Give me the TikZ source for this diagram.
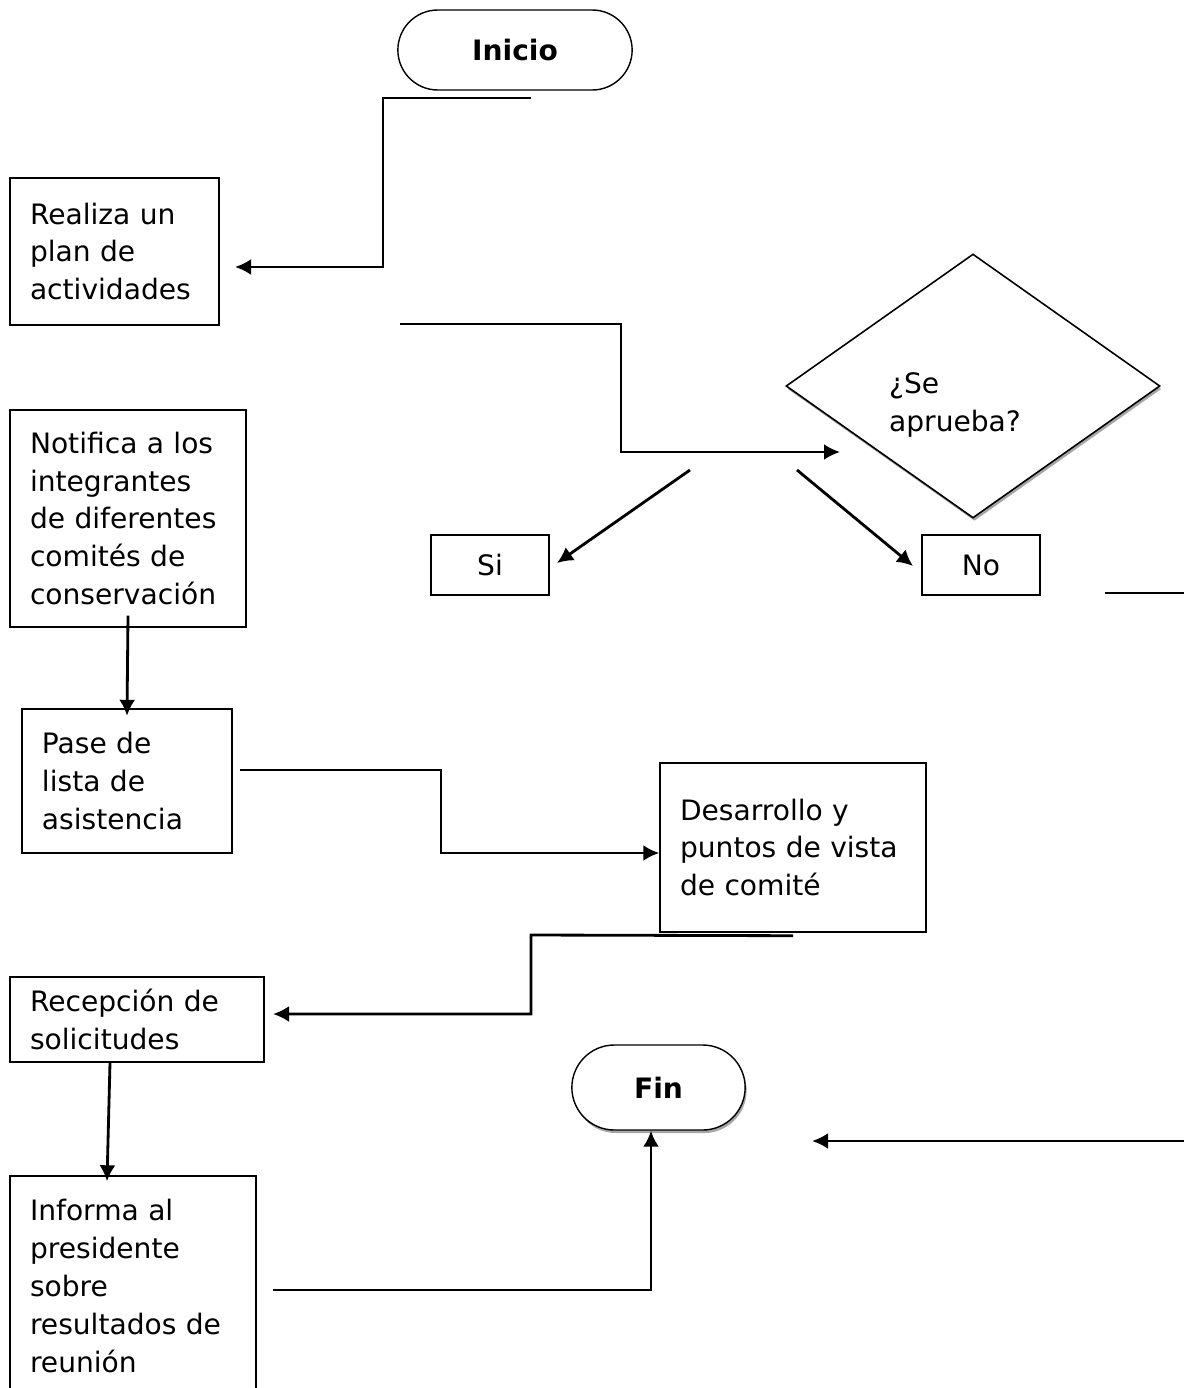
\documentclass[tikz,border=0pt]{standalone}
\usepackage{fontspec}
\setmainfont{DejaVu Sans}
\usetikzlibrary{arrows.meta,shapes.geometric,shapes.misc,shadows}

\begin{document}
\begin{tikzpicture}[
    >={Latex[length=0.32cm,width=0.32cm]},
    font=\fontsize{16pt}{21.6pt}\selectfont,
    caja/.style={draw, line width=0.8pt, align=left, inner xsep=0.4cm},
    terminal/.style={draw, line width=0.8pt, rounded rectangle, fill=white,
                     font=\fontsize{16pt}{21.6pt}\selectfont\bfseries},
    sombra/.style={drop shadow={shadow xshift=0.03cm, shadow yshift=-0.06cm,
                   fill=gray!70, opacity=1}},
    conector/.style={line width=1.6pt, ->}
]

\useasboundingbox (0,0) rectangle (23.68,-27.76);

% inicio y fin
\node[terminal, minimum width=4.92cm, minimum height=1.60cm] (inicio) at (10.30,-1.00) {Inicio};

\node[terminal, sombra, minimum width=3.70cm, minimum height=1.70cm] (fin) at (13.17,-21.75) {Fin};

% columna izquierda
\node[caja, text width=3.38cm, minimum height=2.94cm] (plan) at (2.29,-5.03)
    {Realiza un\\plan de\\actividades};

\node[caja, text width=3.92cm, minimum height=4.34cm] (notifica) at (2.56,-10.37)
    {Notifica a los\\integrantes\\de diferentes\\comités de\\conservación};

\node[caja, text width=3.40cm, minimum height=2.88cm] (pase) at (2.54,-15.62)
    {Pase de\\lista de\\asistencia};

\node[caja, text width=4.28cm, minimum height=1.70cm] (recepcion) at (2.74,-20.39)
    {Recepción de\\solicitudes};

\node[caja, text width=4.12cm, minimum height=4.40cm] (informa) at (2.66,-25.72)
    {Informa al\\presidente\\sobre\\resultados de\\reunión};

% centro y derecha
\node[caja, text width=4.52cm, minimum height=3.38cm] (desarrollo) at (15.86,-16.95)
    {Desarrollo y\\puntos de vista\\de comité};

\node[draw, diamond, line width=0.9pt, fill=white, sombra, inner sep=0pt,
      minimum width=7.48cm, minimum height=5.28cm,
      label={[xshift=-0.36cm, yshift=-0.38cm, align=left]center:{¿Se\\aprueba?}}]
      (decision) at (19.46,-7.72) {};

\node[caja, align=center, text width=1.56cm, minimum height=1.20cm] (si) at (9.80,-11.30) {Si};
\node[caja, align=center, text width=1.56cm, minimum height=1.20cm] (no) at (19.62,-11.30) {No};

% extremos libres
\coordinate (inicioSal) at (10.62,-1.96);
\coordinate (planLlega) at (4.70,-5.34);
\coordinate (planSal) at (8.00,-6.48);
\coordinate (decisionLlega) at (16.80,-9.04);
\coordinate (siSal) at (13.80,-9.40);
\coordinate (siLlega) at (11.14,-11.26);
\coordinate (noSal) at (15.94,-9.40);
\coordinate (noLlega) at (18.26,-11.32);
\coordinate (noCont) at (22.10,-11.86);
\coordinate (bordeDer) at (23.68,-11.86);
\coordinate (paseSal) at (4.80,-15.40);
\coordinate (recepcionLlega) at (5.46,-20.28);
\coordinate (informaSal) at (5.46,-25.80);
\coordinate (finDer) at (23.68,-22.82);
\coordinate (finLlega) at (16.24,-22.82);

% conectores
\draw[conector] (inicioSal) -- (7.66,-1.96) |- (planLlega);
\draw[conector] (planSal) -- (12.42,-6.48) |- (decisionLlega);
\draw[conector] (siSal) -- (siLlega);
\draw[conector] (noSal) -- (noLlega);
\draw[line width=1.6pt] (noCont) -- (bordeDer);
\draw[conector] ([yshift=0.24cm]notifica.south) -- ([yshift=-0.15cm]pase.north);
\draw[conector] (paseSal) -- (8.82,-15.40) |- ([yshift=-0.11cm]desarrollo.west);
\draw[conector] ([yshift=-0.06cm]desarrollo.south) -- (10.62,-18.70) |- (recepcionLlega);
\draw[conector] ([xshift=-0.54cm]recepcion.south) -- ([xshift=-0.52cm,yshift=-0.12cm]informa.north);
\draw[conector] (informaSal) -| ([xshift=-0.15cm]fin.south);
\draw[conector] (finDer) -- (finLlega);

\end{tikzpicture}
\end{document}
